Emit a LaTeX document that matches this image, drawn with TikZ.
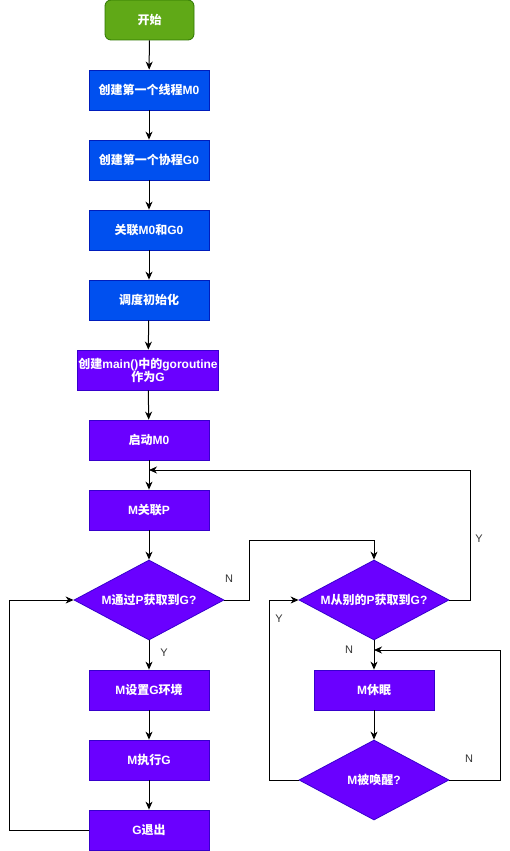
\documentclass[tikz,border=0pt]{standalone}
\usepackage{fontspec}
\setmainfont{Liberation Sans}
\newfontfamily\zh{Noto Sans CJK SC}
\usetikzlibrary{arrows.meta,positioning,calc,shapes.geometric}
\definecolor{ink}{HTML}{000000}
\definecolor{lbl}{HTML}{333333}
\definecolor{startfill}{HTML}{60A917}
\definecolor{startrim}{HTML}{2D7600}
\definecolor{initfill}{HTML}{0050EF}
\definecolor{initrim}{HTML}{001DBC}
\definecolor{runfill}{HTML}{6A00FF}
\definecolor{runrim}{HTML}{3700CC}
\tikzset{
  startbox/.style={rectangle,rounded corners=6pt,minimum width=89pt,minimum height=40pt,
                   fill=startfill,draw=startrim,line width=0.8pt,text=white,font=\bfseries\fontsize{12}{14}\selectfont},
  initbox/.style={rectangle,minimum width=120pt,minimum height=40pt,inner sep=1pt,
                  fill=initfill,draw=initrim,line width=0.8pt,text=white,align=center,
                  font=\bfseries\fontsize{12}{14}\selectfont},
  runbox/.style={initbox,fill=runfill,draw=runrim},
  decide/.style={diamond,aspect=1.875,minimum width=150pt,minimum height=80pt,inner sep=0pt,
                 fill=runfill,draw=runrim,line width=0.8pt,text=white,
                 font=\bfseries\fontsize{12}{14}\selectfont},
  flowarr/.style={-{Stealth[length=8pt,width=7pt,inset=2.5pt]},line width=1pt,draw=ink},
  flowline/.style={line width=1pt,draw=ink},
  yn/.style={text=lbl,font=\fontsize{11}{13}\selectfont,inner sep=0pt},
}

\begin{document}
\begin{tikzpicture}[x=1pt,y=-1pt]
  \useasboundingbox (0,0) rectangle (510,851);

  % ---------------------------------------------------------------- start-up
  \node[startbox] (begin) at (149.5,20) {\zh 开始};
  \node[initbox] (m0) at (149,90) {{\zh 创建第一个线程}M0};
  \node[initbox] (g0) at (149,160) {{\zh 创建第一个协程}G0};
  \node[initbox] (bind) at (149,230) {{\zh 关联}M0{\zh 和}G0};
  \node[initbox] (sched) at (149,300) {\zh 调度初始化};
  \node[runbox,minimum width=140pt] (maing) at (148,370) {{\zh 创建}main(){\zh 中的}goroutine\\[-1pt]{\zh 作为}G};
  \node[runbox] (run0) at (149,440) {{\zh 启动}M0};
  \coordinate (join) at (149,470);
  \node[runbox] (mp) at (149,510) {M{\zh 关联}P};

  % ---------------------------------------------------------------- left loop
  \node[decide] (d1) at (149,600) {M{\zh 通过}P{\zh 获取到}G?};
  \node[runbox] (setg) at (149,690) {M{\zh 设置}G{\zh 环境}};
  \node[runbox] (exec) at (149,760) {M{\zh 执行}G};
  \node[runbox] (gexit) at (149,830) {G{\zh 退出}};

  % ---------------------------------------------------------------- right loop
  \node[decide] (d2) at (374,600) {M{\zh 从别的}P{\zh 获取到}G?};
  \node[runbox] (sleep) at (374,690) {M{\zh 休眠}};
  \node[decide] (d3) at (374,780) {M{\zh 被唤醒}?};
  \coordinate (wake) at (374,650);

  \coordinate (nbend) at (249,540);
  \coordinate (yturn) at (470,470);
  \coordinate (nturn) at (500,650);
  \coordinate (yloop) at (269,600);
  \coordinate (gloop) at (9,600);

  \draw[flowarr] (begin) -- (m0);
  \draw[flowarr] (m0) -- (g0);
  \draw[flowarr] (g0) -- (bind);
  \draw[flowarr] (bind) -- (sched);
  \draw[flowarr] (sched) -- (maing);
  \draw[flowarr] (maing) -- (run0);
  \draw[flowline] (run0) -- (join);
  \draw[flowarr] (join) -- (mp);
  \draw[flowarr] (mp) -- (d1);
  \draw[flowarr] (d1) -- (setg);
  \draw[flowarr] (setg) -- (exec);
  \draw[flowarr] (exec) -- (gexit);
  \draw[flowarr] (gexit.west) -| (gloop) -- (d1.west);

  \draw[flowarr] (d1.east) -| (nbend) -| (d2.north);
  \draw[flowarr] (d2.east) -| (yturn) -- (join);
  \draw[flowline] (d2.south) -- (wake);
  \draw[flowarr] (wake) -- (sleep);
  \draw[flowarr] (sleep) -- (d3);
  \draw[flowarr] (d3.east) -| (nturn) -- (wake);
  \draw[flowarr] (d3.west) -| (yloop) -- (d2.west);

  % labels on the branches
  \node[yn] (n1) at (229,579) {N};
  \node[yn] (y1) at (164,653) {Y};
  \node[yn] (y2) at (479,539) {Y};
  \node[yn] (n2) at (349,650) {N};
  \node[yn] (y3) at (279,619) {Y};
  \node[yn] (n3) at (469,759) {N};
\end{tikzpicture}
\end{document}
